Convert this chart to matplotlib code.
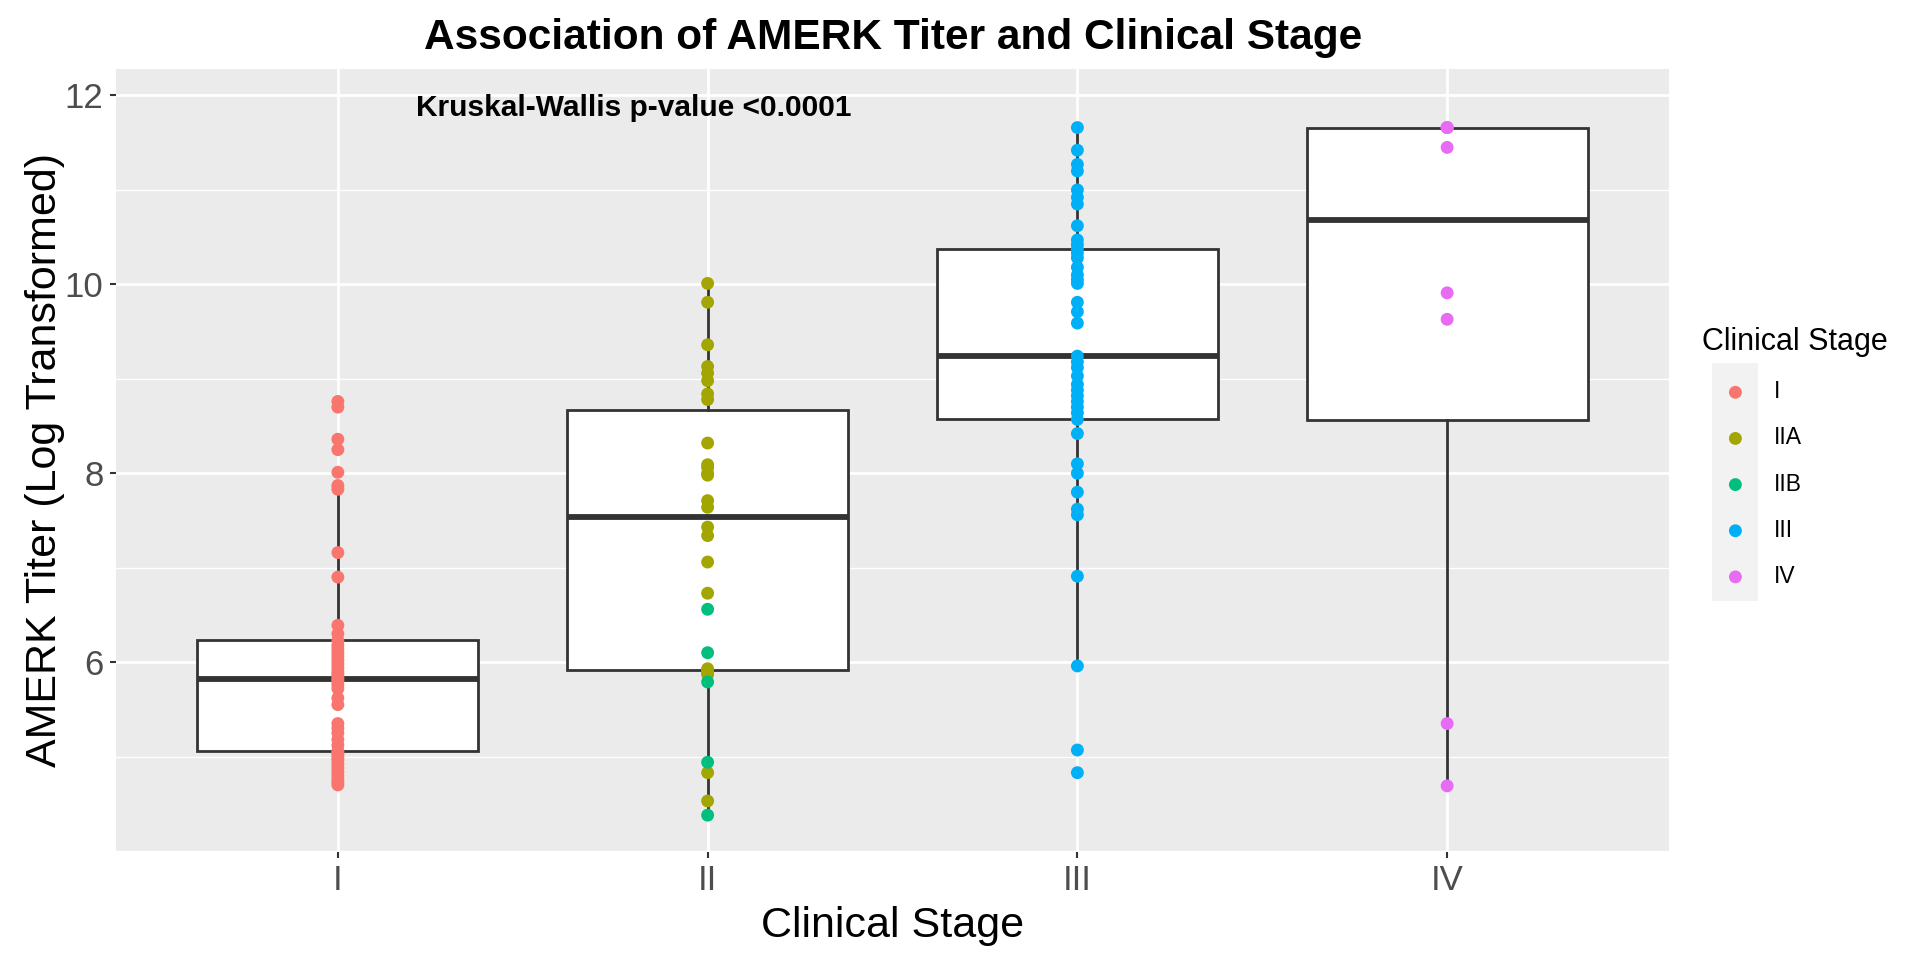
import matplotlib
matplotlib.use("Agg")
import matplotlib.pyplot as plt
from matplotlib.patches import Rectangle
from matplotlib.ticker import MultipleLocator

plt.rcParams["font.family"] = ["Liberation Sans", "DejaVu Sans"]

# values (log transformed titer)
stage_i = [4.70, 4.73, 4.76, 4.80, 4.84, 4.88, 4.92, 4.96, 4.99, 5.02, 5.04,
           5.06, 5.12, 5.18, 5.25, 5.30, 5.35, 5.55, 5.62, 5.72, 5.76, 5.80,
           5.82, 5.84, 5.87, 5.90, 5.94, 5.98, 6.02, 6.06, 6.10, 6.14, 6.18,
           6.23, 6.30, 6.39, 6.90, 7.16, 7.83, 7.87, 8.01, 8.25, 8.36, 8.70, 8.76]
stage_iia = [4.53, 4.83, 5.87, 5.89, 5.91, 5.93, 6.73, 7.06, 7.34, 7.43, 7.64,
             7.71, 7.98, 8.00, 8.06, 8.09, 8.32, 8.78, 8.84, 8.98, 9.06, 9.13,
             9.36, 9.81, 10.01]
stage_iib = [4.38, 4.94, 5.79, 6.10, 6.56]
stage_iii = [4.83, 5.07, 5.96, 6.91, 7.56, 7.62, 7.80, 8.00, 8.10, 8.42, 8.57,
             8.64, 8.70, 8.76, 8.82, 8.88, 8.94, 9.03, 9.12, 9.18, 9.24, 9.59,
             9.71, 9.81, 10.01, 10.05, 10.10, 10.18, 10.28, 10.33, 10.37, 10.42,
             10.47, 10.62, 10.85, 10.92, 11.00, 11.20, 11.27, 11.42, 11.66]
stage_iv = [4.69, 5.35, 9.63, 9.91, 11.45, 11.66, 11.66, 11.66]

groups = ["I", "II", "III", "IV"]
stage_labels = ["I", "IIA", "IIB", "III", "IV"]
stage_colors = ["#F8766D", "#A3A500", "#00BF7D", "#00B0F6", "#E76BF3"]
stage_values = [stage_i, stage_iia, stage_iib, stage_iii, stage_iv]
stage_group = [1, 2, 2, 3, 4]

box_data = [stage_i, stage_iia + stage_iib, stage_iii, stage_iv]

fig = plt.figure(figsize=(19.2, 9.6), dpi=100)
ax = fig.add_axes([116 / 1920, 1 - 852 / 960, 1553 / 1920, 783 / 960])
ax.set_facecolor("#EBEBEB")

line_col = "#333333"
ax.boxplot(box_data, positions=[1, 2, 3, 4], widths=0.76, whis=1.5,
           showfliers=False, showcaps=False, patch_artist=True,
           boxprops=dict(facecolor="white", edgecolor=line_col, linewidth=2.0),
           medianprops=dict(color=line_col, linewidth=4.2),
           whiskerprops=dict(color=line_col, linewidth=2.0),
           zorder=2)

handles = []
for vals, grp, col, lab in zip(stage_values, stage_group, stage_colors, stage_labels):
    h = ax.scatter([grp] * len(vals), vals, s=86, color=col, edgecolors="none",
                   label=lab, zorder=3)
    handles.append(h)

ax.text(1.8, 11.87, "Kruskal-Wallis p-value <0.0001", ha="center", va="center",
        fontsize=21.5, fontweight="bold", color="black")

ax.set_xlim(0.4, 4.6)
ax.set_ylim(3.99, 12.28)
ax.set_xticks([1, 2, 3, 4])
ax.set_xticklabels(groups)
ax.set_yticks([6, 8, 10, 12])
ax.yaxis.set_minor_locator(MultipleLocator(1))
ax.set_axisbelow(True)
ax.grid(True, which="major", color="white", linewidth=2.0)
ax.grid(True, which="minor", axis="y", color="white", linewidth=1.0)
for sp in ax.spines.values():
    sp.set_visible(False)
ax.tick_params(axis="both", which="major", length=4, width=1.5, color=line_col,
               labelsize=25, labelcolor="#4D4D4D", pad=5)
ax.tick_params(axis="y", which="minor", length=0)

ax.set_xlabel("Clinical Stage", fontsize=31, labelpad=6)
ax.set_ylabel("AMERK Titer (Log Transformed)", fontsize=31, labelpad=0)

fig.text(893 / 1920, 1 - 38 / 960, "Association of AMERK Titer and Clinical Stage",
         ha="center", va="center", fontsize=30.5, fontweight="bold")

# grey key background like ggplot legend keys
fig.patches.append(Rectangle((1712 / 1920, 1 - 601 / 960), 46 / 1920, 238 / 960,
                             transform=fig.transFigure, facecolor="#F2F2F2",
                             edgecolor="none", zorder=0))
leg = fig.legend(handles=handles, title="Clinical Stage", loc="upper left",
                 bbox_to_anchor=(1693 / 1920, 1 - 318 / 960), frameon=False,
                 fontsize=16.5, title_fontsize=22, alignment="left",
                 labelspacing=1.01, handletextpad=0.25, handlelength=2.9,
                 borderaxespad=0)

fig.savefig("out.png", dpi=100)
